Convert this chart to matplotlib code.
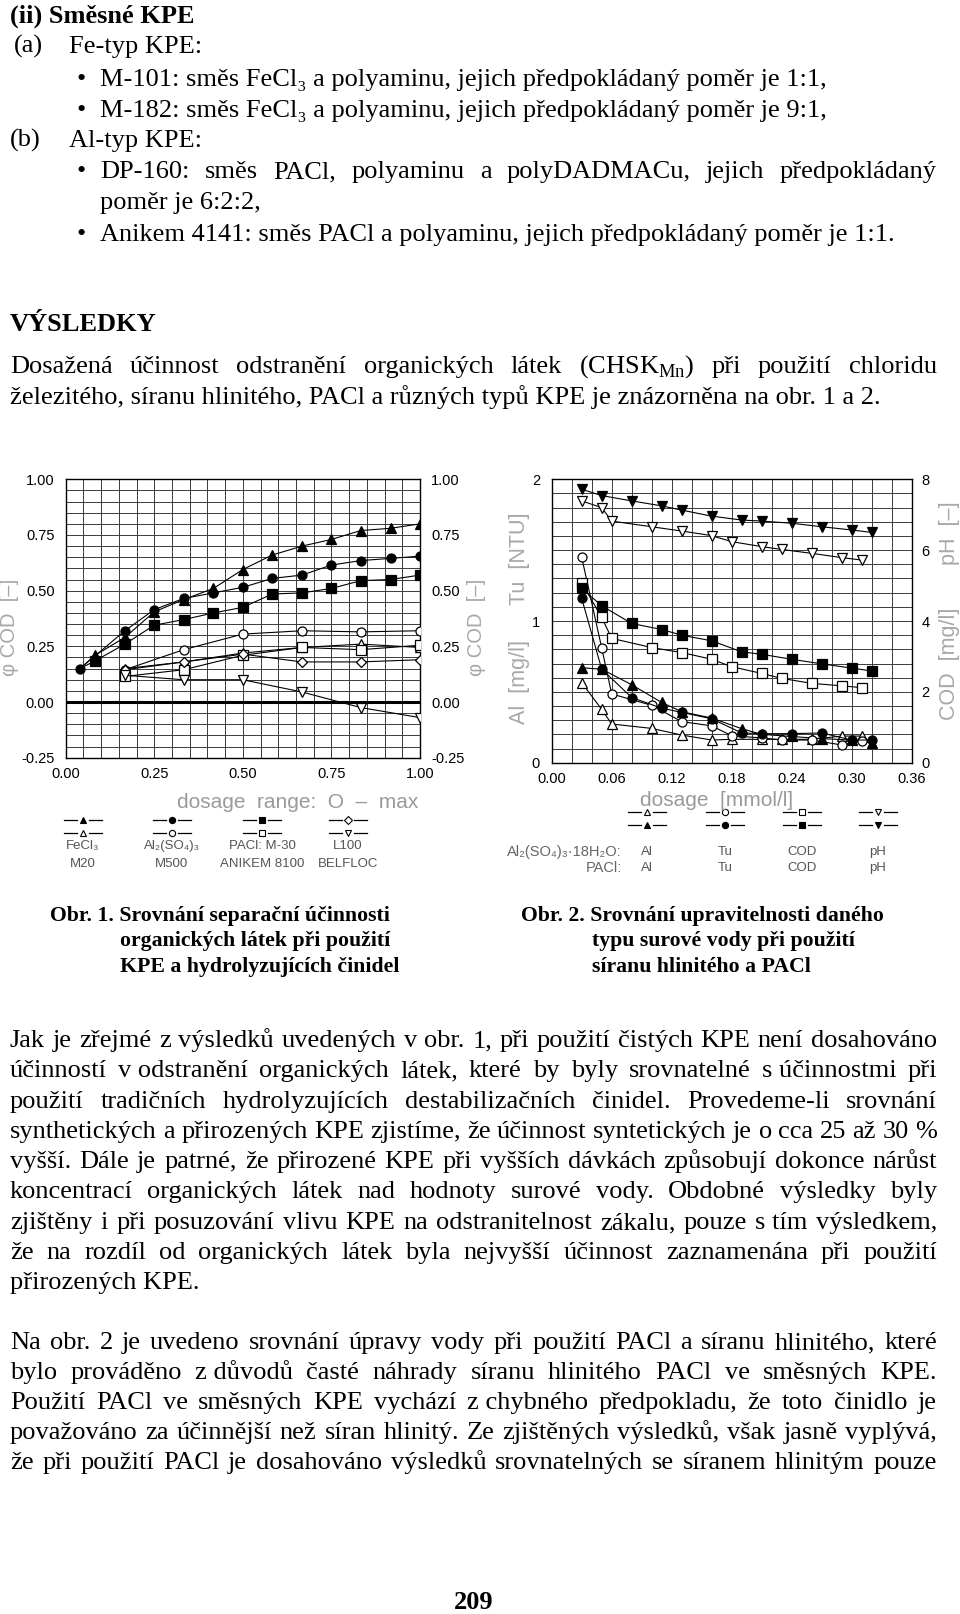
import matplotlib
matplotlib.use('agg')
import matplotlib.pyplot as plt
import numpy as np

plt.rcParams['mathtext.fontset'] = 'custom'
plt.rcParams['mathtext.rm'] = 'Liberation Serif'

SERIF = ['Liberation Serif', 'DejaVu Serif']
SANS = ['Liberation Sans', 'DejaVu Sans']
SUBS = '₀₁₂₃₄₅₆₇₈₉'

######## data: obr. 1 (separation efficiency, phi COD) ########
fecl3_x = [0.04, 0.083, 0.167, 0.25, 0.333, 0.417, 0.5, 0.583, 0.667, 0.75, 0.833, 0.917, 1.0]
fecl3_y = [0.15, 0.21, 0.29, 0.405, 0.46, 0.51, 0.595, 0.66, 0.70, 0.73, 0.77, 0.78, 0.80]
alsulf_x = [0.04, 0.167, 0.25, 0.333, 0.417, 0.5, 0.583, 0.667, 0.75, 0.833, 0.917, 1.0]
alsulf_y = [0.15, 0.32, 0.415, 0.465, 0.49, 0.515, 0.555, 0.57, 0.615, 0.635, 0.645, 0.655]
pacl_x = [0.04, 0.083, 0.167, 0.25, 0.333, 0.417, 0.5, 0.583, 0.667, 0.75, 0.833, 0.917, 1.0]
pacl_y = [0.15, 0.185, 0.26, 0.345, 0.37, 0.40, 0.425, 0.485, 0.49, 0.51, 0.545, 0.55, 0.57]
kpe_x = [0.167, 0.333, 0.5, 0.667, 0.833, 1.0]
m20_y = [0.15, 0.18, 0.22, 0.245, 0.26, 0.245]
m500_y = [0.145, 0.235, 0.305, 0.32, 0.315, 0.32]
anikem_y = [0.115, 0.145, 0.21, 0.245, 0.235, 0.255]
l100_y = [0.145, 0.18, 0.215, 0.18, 0.18, 0.19]
belfloc_y = [0.12, 0.10, 0.10, 0.045, -0.025, -0.07]

######## data: obr. 2 (Al2(SO4)3 vs PACl) ########
dose_as = [0.03, 0.05, 0.06, 0.10, 0.13, 0.16, 0.18, 0.21, 0.23, 0.26, 0.29, 0.31]
dose_pa = [0.03, 0.05, 0.08, 0.11, 0.13, 0.16, 0.19, 0.21, 0.24, 0.27, 0.30, 0.32]
as_al = [0.565, 0.376, 0.273, 0.242, 0.195, 0.16, 0.165, 0.165, 0.165, 0.165, 0.188, 0.188]
as_tu = [1.45, 0.81, 0.485, 0.405, 0.29, 0.26, 0.19, 0.175, 0.16, 0.16, 0.125, 0.155]
as_cod = [5.08, 4.10, 3.51, 3.25, 3.11, 2.92, 2.71, 2.52, 2.38, 2.24, 2.17, 2.12]
as_ph = [7.39, 7.20, 6.82, 6.66, 6.54, 6.41, 6.24, 6.10, 6.02, 5.91, 5.79, 5.72]
pa_al = [0.67, 0.66, 0.55, 0.425, 0.36, 0.315, 0.24, 0.20, 0.185, 0.17, 0.16, 0.14]
pa_tu = [1.16, 0.66, 0.46, 0.385, 0.355, 0.31, 0.21, 0.205, 0.205, 0.21, 0.16, 0.16]
pa_cod = [4.92, 4.43, 3.93, 3.76, 3.60, 3.44, 3.13, 3.06, 2.92, 2.79, 2.67, 2.59]
pa_ph = [7.72, 7.54, 7.39, 7.25, 7.13, 6.96, 6.85, 6.82, 6.76, 6.66, 6.57, 6.50]

######## page text ########
NB = '\u00a0'
top_bullets = [
    'M-101: směs FeCl₃ a polyaminu, jejich předpokládaný poměr je 1:1,',
    'M-182: směs FeCl₃ a polyaminu, jejich předpokládaný poměr je 9:1,',
]
par1 = [
    'Jak je zřejmé z výsledků uvedených v obr. 1, při použití čistých KPE není dosahováno',
    'účinností v' + NB + 'odstranění organických látek, které by byly srovnatelné s' + NB + 'účinnostmi při',
    'použití tradičních hydrolyzujících destabilizačních činidel. Provedeme-li srovnání',
    'synthetických a přirozených KPE zjistíme, že účinnost syntetických je o cca 25 až 30 %',
    'vyšší. Dále je patrné, že přirozené KPE při vyšších dávkách způsobují dokonce nárůst',
    'koncentrací organických látek nad hodnoty surové vody. Obdobné výsledky byly',
    'zjištěny i při posuzování vlivu KPE na odstranitelnost zákalu, pouze s' + NB + 'tím výsledkem,',
    'že na rozdíl od organických látek byla nejvyšší účinnost zaznamenána při použití',
]
par1_last = 'přirozených KPE.'
par2 = [
    'Na obr. 2 je uvedeno srovnání úpravy vody při použití PACl a síranu hlinitého, které',
    'bylo prováděno z' + NB + 'důvodů časté náhrady síranu hlinitého PACl ve směsných KPE.',
    'Použití PACl ve směsných KPE vychází z' + NB + 'chybného předpokladu, že toto činidlo je',
    'považováno za účinnější než síran hlinitý. Ze zjištěných výsledků, však jasně vyplývá,',
    'že při použití PACl je dosahováno výsledků srovnatelných se síranem hlinitým pouze',
]
cap1 = ['Obr. 1. Srovnání separační účinnosti', 'organických látek při použití',
        'KPE a hydrolyzujících činidel']
cap2 = ['Obr. 2. Srovnání upravitelnosti daného', 'typu surové vody při použití',
        'síranu hlinitého a PACl']

W, H = 960, 1614
fig = plt.figure(figsize=(9.6, 16.14), dpi=100)
ov = fig.add_axes([0, 0, 1, 1])
ov.set_xlim(0, W)
ov.set_ylim(H, 0)
ov.axis('off')
renderer = fig.canvas.get_renderer()

FS = 19
BL = 8  # centre of the line -> baseline, px


def put(x, y, s, size=FS, weight='normal', **kw):
    # y is the visual centre of the line, text sits on a common baseline
    yb = round(y + BL * size / FS)
    fam = SERIF if any(c in SUBS for c in s) else 'Liberation Serif'
    return ov.text(x, yb, s, fontsize=size, fontweight=weight,
                   family=fam, va='baseline', **kw)


def justify(x0, x1, y, line, size=FS, weight='normal'):
    words = line.split(' ')
    ts = [put(0, y, w, size, weight) for w in words]
    ws = [t.get_window_extent(renderer).width for t in ts]
    gap = (x1 - x0 - sum(ws)) / (len(ws) - 1)
    x = x0
    for t, w in zip(ts, ws):
        t.set_x(x)
        x += w + gap


#### top block ####
put(10, 15, '(ii) Směsné KPE', weight='bold')
put(14, 45, '(a)')
put(69, 45, 'Fe-typ KPE:')
for i, s in enumerate(top_bullets):
    put(76, 78 + 31 * i, '•', size=19)
    put(100, 78 + 31 * i, s)
put(10, 139, '(b)')
put(69, 139, 'Al-typ KPE:')
put(76, 170, '•', size=19)
justify(100, 937, 170, 'DP-160: směs PACl, polyaminu a polyDADMACu, jejich předpokládaný')
put(100, 201, 'poměr je 6:2:2,')
put(76, 233, '•', size=19)
put(100, 233, 'Anikem 4141: směs PACl a polyaminu, jejich předpokládaný poměr je 1:1.')

put(10, 323, 'VÝSLEDKY', weight='bold')
justify(10, 937, 365, r'Dosažená účinnost odstranění organických látek (CHSK$_{\mathrm{Mn}}$) při použití chloridu')
put(10, 396, 'železitého, síranu hlinitého, PACl a různých typů KPE je znázorněna na obr. 1 a 2.')

#### body paragraphs ####
for i, s in enumerate(par1):
    justify(10, 937, 1039 + 30.3 * i, s)
put(10, 1039 + 30.3 * len(par1), par1_last)
for i, s in enumerate(par2):
    justify(10, 937, 1341 + 30.1 * i, s)

#### captions ####
for i, s in enumerate(cap1):
    put(50 if i == 0 else 120, 914 + 25.5 * i, s, size=15.7, weight='bold')
for i, s in enumerate(cap2):
    put(521 if i == 0 else 592, 914 + 25.5 * i, s, size=15.7, weight='bold')
put(474, 1601, '209', size=19, weight='bold', ha='center')

#### chart styling ####
LW = 0.8
MS = 6.5
GRID = '#3a3a3a'
LAB = '#a8a8a8'


def frame(ax):
    for sp in ax.spines.values():
        sp.set_linewidth(1.0)
        sp.set_color('k')
    ax.tick_params(which='both', length=0, labelsize=10.5, colors='k')
    for t in ax.get_xticklabels() + ax.get_yticklabels():
        t.set_family('Liberation Sans')
    ax.grid(which='both', color=GRID, lw=0.7)
    ax.set_axisbelow(True)


def series(ax, x, y, marker, filled, ms=MS, **kw):
    ax.plot(x, y, color='k', lw=LW, marker=marker, ms=ms,
            mfc='k' if filled else 'white', mec='k', mew=0.9, zorder=3, **kw)


#### obr. 1 ####
ax1 = fig.add_axes([65.7 / W, 1 - 757.7 / H, 354.3 / W, 278.4 / H])
ax1.set_xlim(0, 1)
ax1.set_ylim(-0.25, 1)
ax1.set_xticks([0, 0.25, 0.5, 0.75, 1.0])
ax1.set_xticks(np.arange(0, 1.001, 0.05), minor=True)
ax1.set_yticks([-0.25, 0, 0.25, 0.5, 0.75, 1.0])
ax1.set_yticks(np.arange(-0.25, 1.001, 0.05), minor=True)
ax1.set_xticklabels(['%.2f' % v for v in ax1.get_xticks()])
ax1.set_yticklabels(['%.2f' % v for v in ax1.get_yticks()])
ax1.tick_params(axis='y', labelright=True, pad=8)
ax1.tick_params(axis='x', pad=6.5)
frame(ax1)
ax1.axhline(0, color='k', lw=2.2, zorder=2)

series(ax1, fecl3_x, fecl3_y, '^', True, markevery=slice(1, None))
series(ax1, pacl_x, pacl_y, 's', True, markevery=slice(1, None))
series(ax1, alsulf_x, alsulf_y, 'o', True)
series(ax1, kpe_x, m500_y, 'o', False)
series(ax1, kpe_x, m20_y, '^', False)
series(ax1, kpe_x, anikem_y, 's', False)
series(ax1, kpe_x, l100_y, 'D', False, ms=5.2)
series(ax1, kpe_x, belfloc_y, 'v', False)

for xx in (10, 477):
    ov.text(xx, 627, 'φ COD  [–]', rotation=90, ha='center', va='center',
            fontsize=14.5, color=LAB, family=SANS)
ov.text(298, 802, 'dosage  range:  O  –  max', ha='center', va='center',
        fontsize=15, color='#9a9a9a', family='Liberation Sans')

leg1_x = [83, 172, 262, 348]
leg1_top = [('^', True, 'FeCl₃'), ('o', True, 'Al₂(SO₄)₃'), ('s', True, 'PACl: M-30'), ('D', False, 'L100')]
leg1_bot = [('^', False, 'M20'), ('o', False, 'M500'), ('s', False, 'ANIKEM 8100'), ('v', False, 'BELFLOC')]
for cx, (m1, f1, t1), (m2, f2, t2) in zip(leg1_x, leg1_top, leg1_bot):
    for yy, m, f in [(820, m1, f1), (833, m2, f2)]:
        ov.plot([cx - 19, cx - 6], [yy, yy], color='k', lw=0.9)
        ov.plot([cx + 6, cx + 19], [yy, yy], color='k', lw=0.9)
        ov.plot([cx], [yy], marker=m, ms=4.5 if m != 'D' else 3.8,
                mfc='k' if f else 'white', mec='k', mew=0.8)
    ov.text(cx, 846, t1, ha='center', va='center', fontsize=9.5, color='#555', family=SANS)
    ov.text(cx, 864, t2, ha='center', va='center', fontsize=9.5, color='#555', family=SANS)

#### obr. 2 ####
ax2 = fig.add_axes([551.7 / W, 1 - 762.7 / H, 360.0 / W, 283.4 / H])
ax2.set_xlim(0, 0.36)
ax2.set_ylim(0, 2)
ax2.set_xticks(np.arange(0, 0.361, 0.06))
ax2.set_xticks(np.arange(0, 0.361, 0.02), minor=True)
ax2.set_yticks([0, 1, 2])
ax2.set_yticks(np.arange(0, 2.001, 0.1), minor=True)
ax2.set_xticklabels(['%.2f' % v for v in ax2.get_xticks()])
ax2.set_yticklabels(['0', '1', '2'])
ax2.tick_params(axis='y', pad=8.5)
ax2.tick_params(axis='x', pad=7)
frame(ax2)

ax2r = ax2.twinx()
ax2r.set_ylim(0, 8)
ax2r.set_yticks([0, 2, 4, 6, 8])
ax2r.set_yticklabels(['0', '2', '4', '6', '8'])
ax2r.tick_params(length=0, labelsize=10.5, pad=7)
for t in ax2r.get_yticklabels():
    t.set_family('Liberation Sans')
for sp in ax2r.spines.values():
    sp.set_visible(False)

series(ax2, dose_as, as_al, '^', False)
series(ax2, dose_pa, pa_al, '^', True)
series(ax2, dose_as, as_tu, 'o', False)
series(ax2, dose_pa, pa_tu, 'o', True)
series(ax2r, dose_as, as_cod, 's', False)
series(ax2r, dose_pa, pa_cod, 's', True)
series(ax2r, dose_as, as_ph, 'v', False)
series(ax2r, dose_pa, pa_ph, 'v', True)

for txt, yy in [('Tu  [NTU]', 559), ('Al  [mg/l]', 682)]:
    ov.text(519, yy, txt, rotation=90, ha='center', va='center',
            fontsize=15.5, color=LAB, family='Liberation Sans')
for txt, yy in [('pH  [–]', 533), ('COD  [mg/l]', 664)]:
    ov.text(950, yy, txt, rotation=90, ha='center', va='center',
            fontsize=15.5, color=LAB, family='Liberation Sans')
ov.text(717, 800, 'dosage  [mmol/l]', ha='center', va='center',
        fontsize=15, color='#9a9a9a', family='Liberation Sans')

leg2_x = [647, 725, 802, 878]
leg2_m = ['^', 'o', 's', 'v']
leg2_t = ['Al', 'Tu', 'COD', 'pH']
for cx, m, t in zip(leg2_x, leg2_m, leg2_t):
    for yy, f in [(812, False), (825, True)]:
        ov.plot([cx - 19, cx - 6], [yy, yy], color='k', lw=0.9)
        ov.plot([cx + 6, cx + 19], [yy, yy], color='k', lw=0.9)
        ov.plot([cx], [yy], marker=m, ms=4.5, mfc='k' if f else 'white', mec='k', mew=0.8)
    ov.text(cx, 852, t, ha='center', va='center', fontsize=9.5, color='#555', family='Liberation Sans')
    ov.text(cx, 868, t, ha='center', va='center', fontsize=9.5, color='#555', family='Liberation Sans')
ov.text(622, 852, 'Al₂(SO₄)₃·18H₂O:', ha='right', va='center', fontsize=10.5, color='#666', family=SANS)
ov.text(622, 868, 'PACl:', ha='right', va='center', fontsize=10.5, color='#666', family='Liberation Sans')

fig.savefig('out.png', dpi=100)
